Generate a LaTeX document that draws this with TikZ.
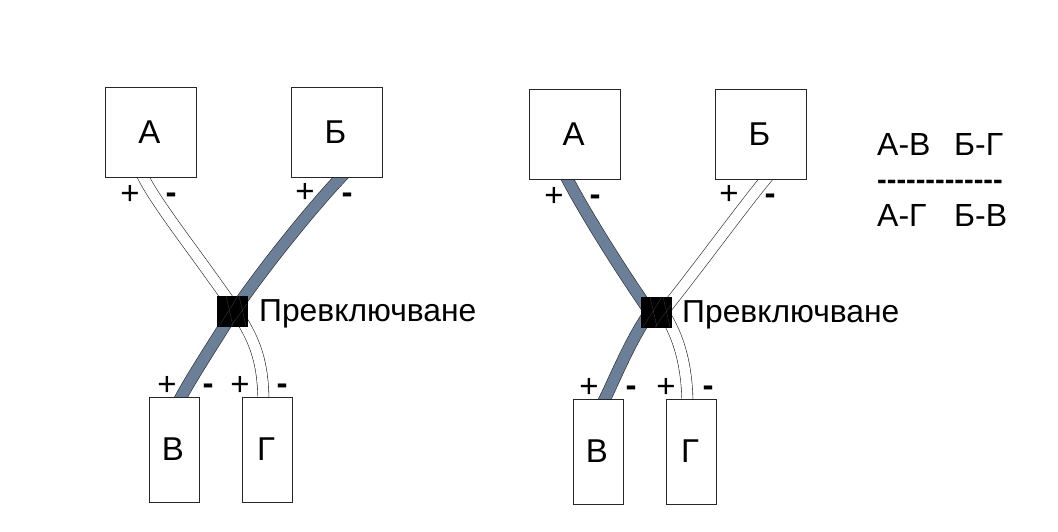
\documentclass[tikz,border=0pt]{standalone}
\usepackage{fontspec}
\setmainfont{Liberation Sans}
\usetikzlibrary{backgrounds}
\definecolor{WireGray}{HTML}{6B7F99}

\begin{document}
\begin{tikzpicture}[
  x=1pt, y=-1pt,
  box/.style={draw=black!85, line width=0.7pt, fill=white, inner sep=0pt, font=\fontsize{33}{33}\selectfont},
  bigbox/.style={box, minimum width=91pt, minimum height=90pt},
  smallbox/.style={box, minimum width=50pt, minimum height=105pt},
  switchbox/.style={draw=black, fill=black, inner sep=0pt, minimum size=30pt},
  switchlabel/.style={anchor=west, inner sep=0pt, font=\fontsize{31.8}{31.8}\selectfont},
  sign/.style={inner sep=0pt, yshift=-3pt, font=\fontsize{33}{33}\selectfont},
  minussign/.style={inner sep=0pt, yshift=-5pt, font=\fontsize{33}{33}\bfseries\selectfont},
  pairtext/.style={anchor=west, inner sep=0pt, font=\fontsize{32}{32}\selectfont},
  dashtext/.style={anchor=west, inner sep=0pt, font=\fontsize{29}{29}\bfseries\selectfont},
  whitewire/.style={draw=black!85, line width=0.6pt, double=white, double distance=10.5pt},
  graywire/.style={draw=black!85, line width=0.6pt, double=WireGray, double distance=11pt},
  swline/.style={draw=black!75, line width=0.3pt}
]
\useasboundingbox (0,0) rectangle (1058,532);

% left part
\node[bigbox] (a1) at (150.5,132) {\kern-2ptА};
\node[bigbox] (b1) at (336.5,132) {\kern-2ptБ};
\node[smallbox] (v1) at (174,449.5) {\kern-2ptВ};
\node[smallbox] (g1) at (267.5,449.5) {\kern-3ptГ};
\node[switchbox] (sw1) at (232,311) {};
\node[switchlabel] (swt1) at (259,314) {Превключване};

\begin{pgfonlayer}{background}
\draw[whitewire] ([xshift=-11pt,yshift=8pt]a1.south) .. controls +(13,30) and +(-45,-65) .. ([xshift=4pt]sw1.center) .. controls +(18,28) and +(0,-45) .. ([xshift=-4pt,yshift=-8pt]g1.north);
\draw[graywire] ([xshift=12pt,yshift=8pt]b1.south) .. controls +(-25,25) and +(38,-55) .. ([xshift=2pt]sw1.center) .. controls +(-25,40) and +(13,-25) .. ([xshift=3pt,yshift=-8pt]v1.north);
\end{pgfonlayer}

\node[sign] (ap1) at (130,192) {+};
\node[minussign] (am1) at (171,193) {-};
\node[sign] (bp1) at (305,190) {+};
\node[minussign] (bm1) at (347,193) {-};
\node[sign] (vp1) at (167,383) {+};
\node[minussign] (vm1) at (208,384) {-};
\node[sign] (gp1) at (240,383) {+};
\node[minussign] (gm1) at (282,384) {-};

% right part
\node[bigbox] (a2) at (574.5,134) {\kern-2ptА};
\node[bigbox] (b2) at (760.5,134) {\kern-2ptБ};
\node[smallbox] (v2) at (598,451.5) {\kern-2ptВ};
\node[smallbox] (g2) at (691.5,451.5) {\kern-3ptГ};
\node[switchbox] (sw2) at (656,312) {};
\node[switchlabel] (swt2) at (682,315) {Превключване};

\begin{pgfonlayer}{background}
\draw[whitewire] ([xshift=12pt,yshift=8pt]b2.south) .. controls +(-20,22) and +(40,-50) .. ([xshift=7pt]sw2.center) .. controls +(16,24) and +(0,-40) .. ([xshift=-4pt,yshift=-8pt]g2.north);
\draw[graywire] ([xshift=-11pt,yshift=8pt]a2.south) .. controls +(12,25) and +(-40,-58) .. ([xshift=-6pt]sw2.center);
\draw[graywire] ([xshift=-6pt]sw2.center) .. controls +(-22,32) and +(13,-25) .. ([xshift=3pt,yshift=-8pt]v2.north);
\end{pgfonlayer}

\node[sign] (ap2) at (554,194) {+};
\node[minussign] (am2) at (595,195) {-};
\node[sign] (bp2) at (729,192) {+};
\node[minussign] (bm2) at (770,194) {-};
\node[sign] (vp2) at (589,385) {+};
\node[minussign] (vm2) at (631,386) {-};
\node[sign] (gp2) at (666,385) {+};
\node[minussign] (gm2) at (708,386) {-};

% faint wire edges over the black squares
\foreach \sw in {sw1,sw2}{
  \draw[swline] ([xshift=-6pt]\sw.north) -- ([xshift=1pt]\sw.south);
  \draw[swline] ([xshift=7pt]\sw.north) -- ([xshift=14pt]\sw.south);
  \draw[swline] ([xshift=6pt]\sw.north) -- ([xshift=-13pt]\sw.south);
  \draw[swline] ([xshift=15pt,yshift=-8pt]\sw.north) -- ([xshift=-1pt]\sw.south);
}

% switch table
\node[pairtext] (t1) at (877,144) {А-В};
\node[pairtext] (t2) at (954,144) {Б-Г};
\node[dashtext] (t3) at (877,185) {-{}-{}-{}-{}-{}-{}-{}-{}-{}-{}-{}-{}-};
\node[pairtext] (t4) at (877,215) {А-Г};
\node[pairtext] (t5) at (954,215) {Б-В};
\end{tikzpicture}
\end{document}
